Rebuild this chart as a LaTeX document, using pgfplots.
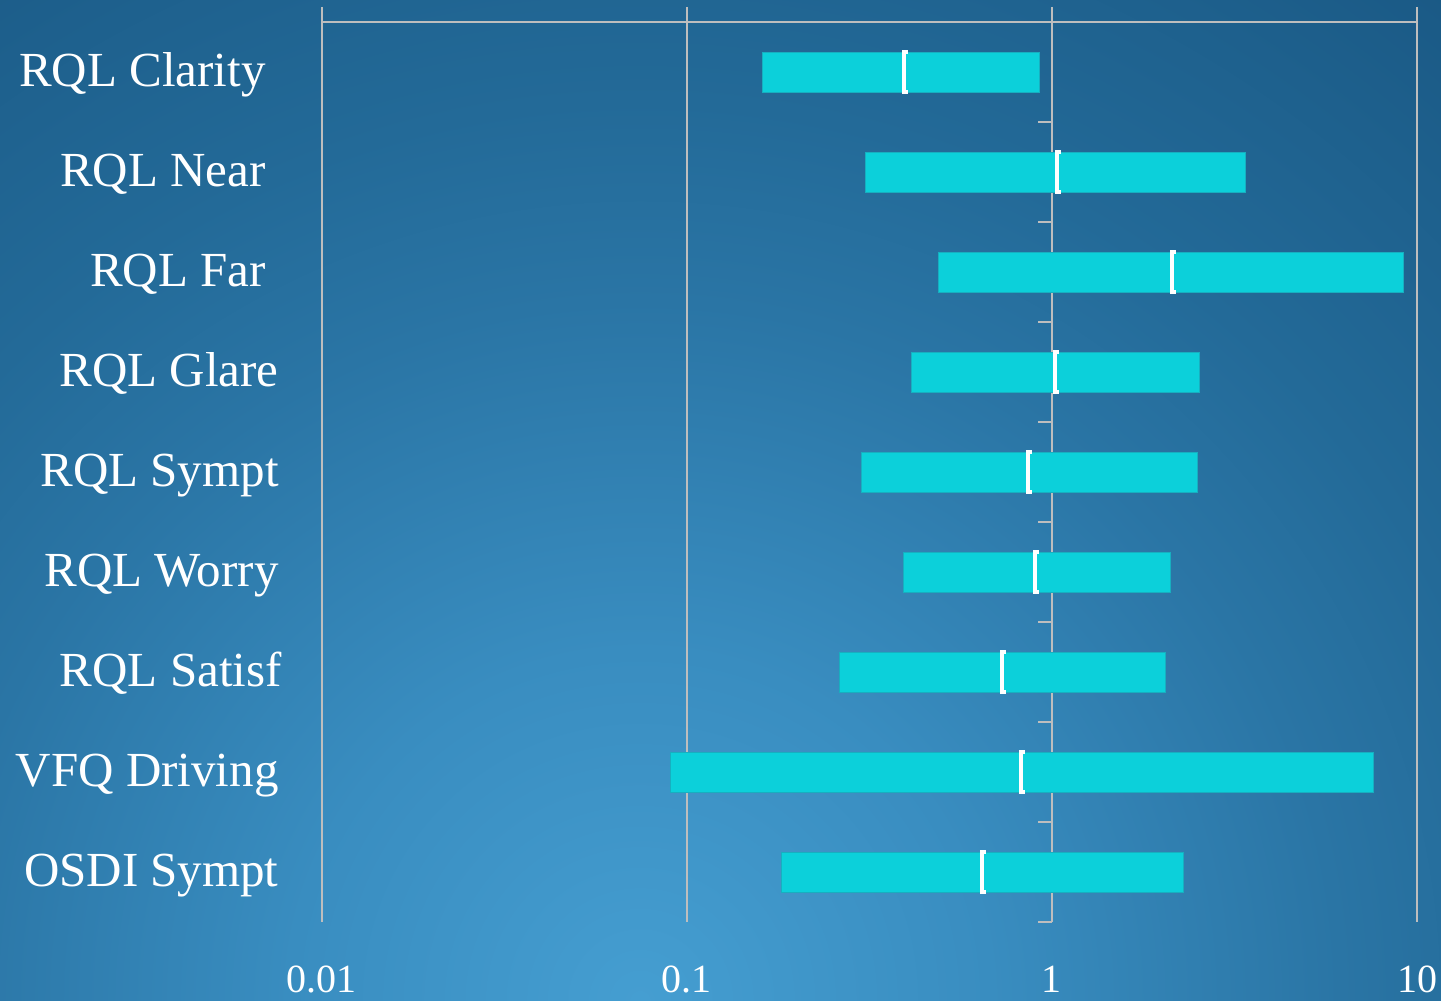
\documentclass[border=0pt]{standalone}
\usepackage{fontspec}
\setmainfont{Liberation Serif}
\usepackage{pgfplots}
\pgfplotsset{compat=1.18}
\definecolor{c0}{RGB}{69,158,209}
\definecolor{c1}{RGB}{57,141,192}
\definecolor{c2}{RGB}{42,117,165}
\definecolor{c3}{RGB}{35,106,152}
\definecolor{c4}{RGB}{26,89,133}
\definecolor{barcol}{RGB}{12,208,218}
\definecolor{bardraw}{RGB}{23,175,192}
\definecolor{gridcol}{RGB}{190,190,190}
\pgfdeclareradialshading{bg}{\pgfpointorigin}{color(0pt)=(c0); color(175pt)=(c1); color(350pt)=(c2); color(450pt)=(c3); color(650pt)=(c4)}
\pgfdeclareplotmark{orbar}{%
  \pgfpathmoveto{\pgfqpoint{1.9pt}{10pt}}%
  \pgfpathlineto{\pgfqpoint{0pt}{10pt}}%
  \pgfpathlineto{\pgfqpoint{0pt}{-10pt}}%
  \pgfpathlineto{\pgfqpoint{1.9pt}{-10pt}}%
  \pgfusepathqstroke}
\begin{document}
\begin{tikzpicture}
\useasboundingbox (0,0) rectangle (720.5pt,500.5pt);
\begin{scope}
\clip (0,0) rectangle (720.5pt,500.5pt);
\node[inner sep=0pt] at (320pt,0pt) {\pgfuseshading{bg}};
\end{scope}
\begin{axis}[
  at={(161pt,39.5pt)}, anchor=south west,
  scale only axis, width=547.5pt, height=450pt,
  xmode=log, xmin=0.01, xmax=10,
  ymin=-0.5, ymax=8.5, y dir=reverse,
  axis line style={draw=none},
  xtick={0.01,0.1,1,10}, xticklabels={0.01,0.1,1,10},
  xminorticks=false,
  xtick pos=right, xticklabel pos=left,
  tick align=outside, major tick length=7.5pt,
  x tick style={draw=gridcol, line width=0.8pt},
  xmajorgrids, major grid style={draw=gridcol, line width=0.8pt},
  ytick={0,1,2,3,4,5,6,7,8},
  yticklabels={RQL Clarity\kern6.5pt, RQL Near\kern6.5pt, RQL Far\kern6.5pt, RQL Glare, RQL Sympt, RQL Worry, RQL Satisf\kern-1.5pt, VFQ Driving, OSDI Sympt},
  y tick style={draw=none},
  xticklabel style={anchor=base, inner sep=0pt, yshift=-27.5pt, text=white, font=\fontsize{20}{24}\selectfont},
  yticklabel style={anchor=base east, inner sep=0pt, xshift=-14pt, yshift=-7pt, text=white, font=\fontsize{24.5}{29}\selectfont},
  /pgf/number format/assume math mode=true,
  clip=false,
]
\draw[gridcol, line width=0.8pt] (axis cs:0.01,-0.5) -- (axis cs:10,-0.5);
\pgfplotsinvokeforeach{0.5,1.5,2.5,3.5,4.5,5.5,6.5,7.5,8.5}{
  \draw[gridcol, line width=0.8pt] (axis cs:1,#1) -- ++(-7pt,0pt);
}
\addplot[fill=barcol, draw=bardraw, line width=0.5pt] coordinates {(0.161,-0.2) (0.927,-0.2) (0.927,0.2) (0.161,0.2)} -- cycle;
\addplot[fill=barcol, draw=bardraw, line width=0.5pt] coordinates {(0.309,0.8) (3.40,0.8) (3.40,1.2) (0.309,1.2)} -- cycle;
\addplot[fill=barcol, draw=bardraw, line width=0.5pt] coordinates {(0.490,1.8) (9.21,1.8) (9.21,2.2) (0.490,2.2)} -- cycle;
\addplot[fill=barcol, draw=bardraw, line width=0.5pt] coordinates {(0.411,2.8) (2.53,2.8) (2.53,3.2) (0.411,3.2)} -- cycle;
\addplot[fill=barcol, draw=bardraw, line width=0.5pt] coordinates {(0.300,3.8) (2.50,3.8) (2.50,4.2) (0.300,4.2)} -- cycle;
\addplot[fill=barcol, draw=bardraw, line width=0.5pt] coordinates {(0.391,4.8) (2.11,4.8) (2.11,5.2) (0.391,5.2)} -- cycle;
\addplot[fill=barcol, draw=bardraw, line width=0.5pt] coordinates {(0.261,5.8) (2.04,5.8) (2.04,6.2) (0.261,6.2)} -- cycle;
\addplot[fill=barcol, draw=bardraw, line width=0.5pt] coordinates {(0.0904,6.8) (7.62,6.8) (7.62,7.2) (0.0904,7.2)} -- cycle;
\addplot[fill=barcol, draw=bardraw, line width=0.5pt] coordinates {(0.181,7.8) (2.29,7.8) (2.29,8.2) (0.181,8.2)} -- cycle;
\addplot[only marks, mark=orbar, mark options={draw=white, line width=2.2pt}] coordinates {
(0.393,0) (1.032,1) (2.13,2) (1.019,3) (0.859,4) (0.898,5) (0.729,6) (0.822,7) (0.643,8)};
\end{axis}
\end{tikzpicture}
\end{document}
